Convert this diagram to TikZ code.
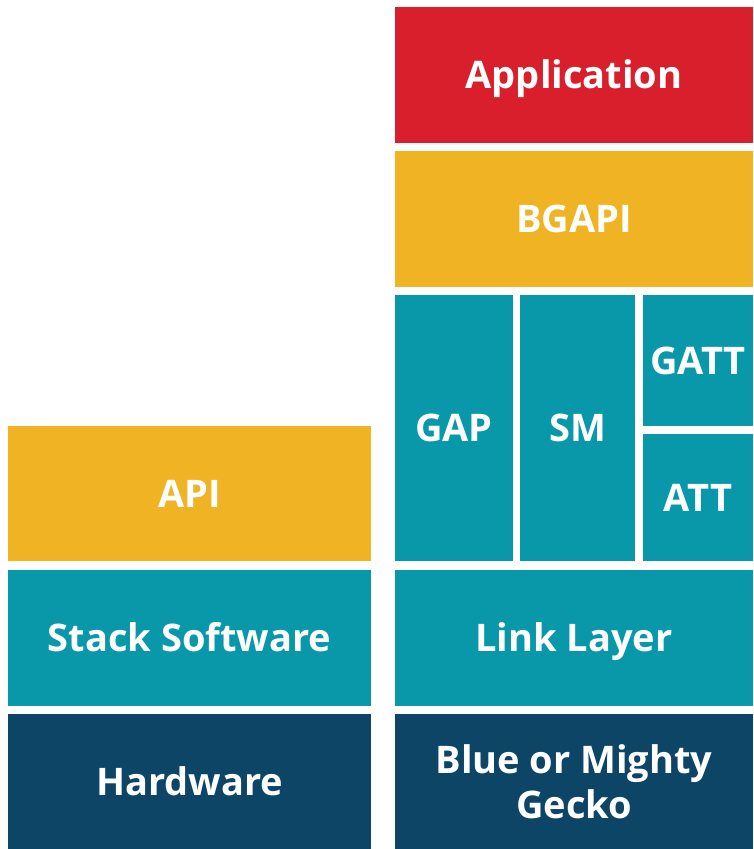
\documentclass[tikz,border=0pt]{standalone}
\usepackage{fontspec}
\setmainfont{Open Sans}
\definecolor{appred}{RGB}{217,31,43}
\definecolor{apiyellow}{RGB}{240,179,35}
\definecolor{stackteal}{RGB}{8,152,169}
\definecolor{chipnavy}{RGB}{13,69,103}
\tikzset{
  layer/.style={rectangle,inner sep=0pt,text=white,font=\fontsize{38}{45}\selectfont\bfseries,align=center},
  oneline/.style={layer,text height=27pt,text depth=0pt},
  wide/.style={oneline,minimum width=358pt,minimum height=136pt},
  leftwide/.style={oneline,minimum width=363pt,minimum height=136pt}
}
\begin{document}
\begin{tikzpicture}[x=1pt,y=-1pt]
  \useasboundingbox (0,0) rectangle (753,849);
  \node[wide,fill=appred] (app) at (574,75) {Application};
  \node[wide,fill=apiyellow] (bgapi) at (574,219) {BGAPI};
  \node[oneline,fill=stackteal,minimum width=118pt,minimum height=266pt] (gap) at (454,428) {GAP};
  \node[oneline,fill=stackteal,minimum width=115pt,minimum height=266pt] (sm) at (577.5,428) {SM};
  \node[oneline,fill=stackteal,minimum width=110pt,minimum height=131pt] (gatt) at (698,360.5) {GATT};
  \node[oneline,fill=stackteal,minimum width=110pt,minimum height=127pt] (att) at (698,497.5) {ATT};
  \node[wide,fill=stackteal] (link) at (574,638) {Link Layer};
  \node[layer,fill=chipnavy,minimum width=358pt,minimum height=135pt] (gecko) at (574,781.5) {Blue or Mighty\\Gecko};
  \node[leftwide,fill=apiyellow,minimum height=135pt] (api) at (189.5,493.5) {API};
  \node[leftwide,fill=stackteal] (stack) at (189.5,638) {Stack Software};
  \node[leftwide,fill=chipnavy,minimum height=135pt] (hw) at (189.5,781.5) {Hardware};
\end{tikzpicture}
\end{document}
